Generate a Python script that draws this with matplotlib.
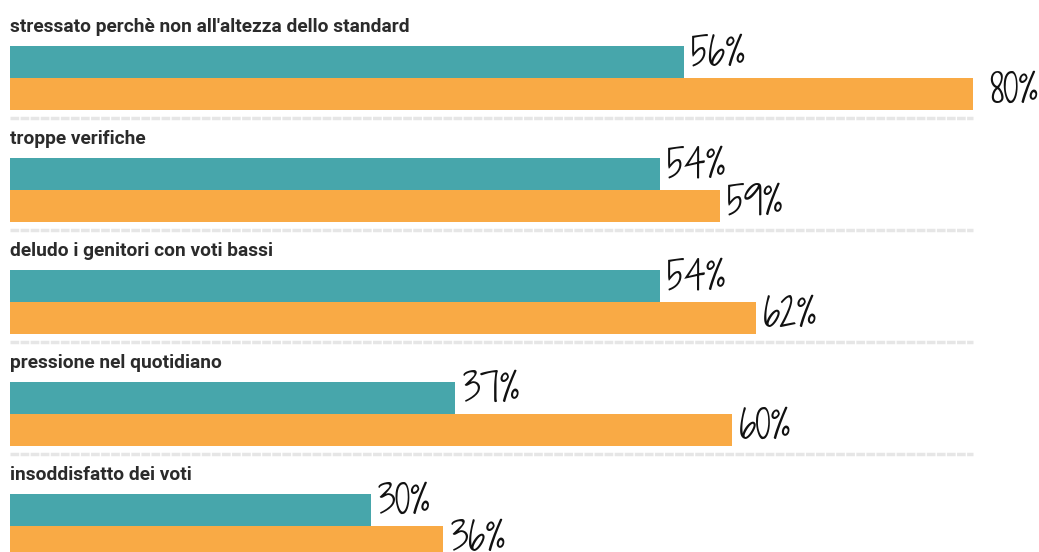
import matplotlib
matplotlib.use("Agg")
import matplotlib.pyplot as plt
from matplotlib import font_manager

categories = [
    "stressato perchè non all'altezza dello standard",
    "troppe verifiche",
    "deludo i genitori con voti bassi",
    "pressione nel quotidiano",
    "insoddisfatto dei voti",
]
teal_values = [56, 54, 54, 37, 30]
orange_values = [80, 59, 62, 60, 36]

TEAL = "#47a6ab"
ORANGE = "#f9aa45"

W, H = 1039, 552
fig = plt.figure(figsize=(W / 100, H / 100), dpi=100)
ax = fig.add_axes([0, 0, 1, 1])

ppu = (973 - 10) / 80.0
ax.set_xlim(-10 / ppu, (W - 10) / ppu)
ax.set_ylim(H, 0)
ax.axis("off")

avail = {f.name for f in font_manager.fontManager.ttflist}
prefs = [
    ("Nanum Pen Script", 37),
    ("Just Another Hand", 37),
    ("Shadows Into Light Two", 28),
    ("Shadows Into Light", 28),
    ("Reenie Beanie", 37),
    ("Covered By Your Grace", 28),
    ("Gochi Hand", 26),
    ("Indie Flower", 26),
    ("Patrick Hand", 28),
    ("Fira Sans Condensed", 26),
]
hand_font, hand_size = next(((f, s) for f, s in prefs if f in avail), ("DejaVu Sans", 20))
hand_family = [hand_font, "DejaVu Sans"]

title_family = "Roboto" if "Roboto" in avail else "DejaVu Sans"

pitch = 112
bar_h = 32
for i, cat in enumerate(categories):
    y0 = i * pitch
    ty = y0 + 62
    oy = y0 + 94
    ax.barh(ty, teal_values[i], height=bar_h, left=0, color=TEAL, edgecolor="none")
    ax.barh(oy, orange_values[i], height=bar_h, left=0, color=ORANGE, edgecolor="none")
    ax.text(0, y0 + 27, cat, fontsize=13.8, fontweight="bold", family=title_family,
            color="#2b2b2b", va="center", ha="left")
    ax.text(teal_values[i] + 7 / ppu, ty - 6, f"{teal_values[i]}%", fontsize=hand_size,
            family=hand_family, color="#111111", va="center", ha="left")
    ax.text(orange_values[i] + (16 if orange_values[i] == max(orange_values) else 7) / ppu,
            oy - 1, f"{orange_values[i]}%", fontsize=hand_size,
            family=hand_family, color="#111111", va="center", ha="left")
    if i < len(categories) - 1:
        ax.plot([0, 80], [y0 + 118, y0 + 118], color="#e6e6e6", lw=2.5,
                linestyle=(0, (2.5, 0.4)))

fig.savefig("out.png", dpi=100)
